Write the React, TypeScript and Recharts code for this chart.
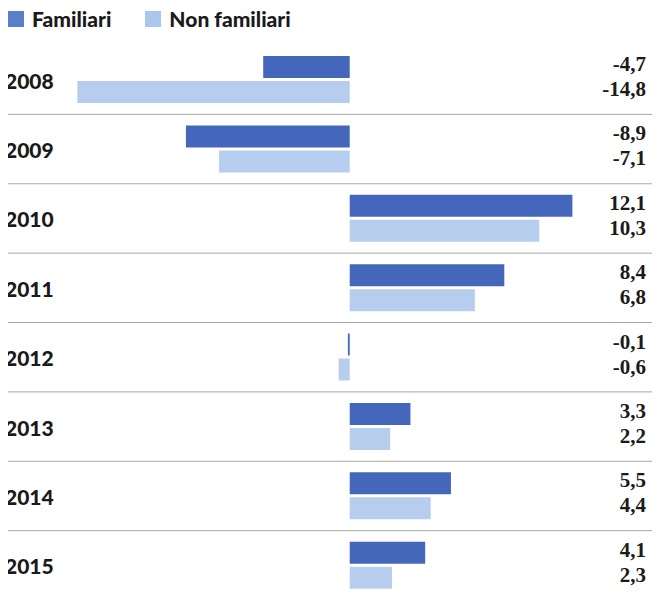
import { BarChart, Bar, XAxis, YAxis, CartesianGrid, Legend, LabelList } from 'recharts';

const years = ['2008', '2009', '2010', '2011', '2012', '2013', '2014', '2015'];
const familiari = [-4.7, -8.9, 12.1, 8.4, -0.1, 3.3, 5.5, 4.1];
const nonFamiliari = [-14.8, -7.1, 10.3, 6.8, -0.6, 2.2, 4.4, 2.3];

const data = years.map((year, i) => ({ year, familiari: familiari[i], nonFamiliari: nonFamiliari[i] }));

const DARK = '#4466bb';
const LIGHT = '#b7cdee';
const SANS = 'Lato, "Open Sans", sans-serif';
const SERIF = '"Liberation Serif", "DejaVu Serif", serif';

const fmt = (v: number) => v.toFixed(1).replace('.', ',');

function ValueLabel(props: any) {
    const { y, height, value } = props;
    return (
        <text x={646} y={y + height / 2} dy={4} textAnchor="end" fontFamily={SERIF} fontWeight={700} fontSize={21} fill="#1b1b1b">
            {fmt(Number(value))}
        </text>
    );
}

function YearTick(props: any) {
    const { y, payload } = props;
    return (
        <text x={5} y={y} dy={9} textAnchor="start" fontFamily={SANS} fontWeight={900} fontSize={21} fill="#1a1a1a">
            {payload.value}
        </text>
    );
}

function LegendContent() {
    const items = [
        { label: 'Familiari', color: '#5a7ecb' },
        { label: 'Non familiari', color: '#aac6ec' },
    ];
    return (
        <div style={{ display: 'flex', gap: 34, fontFamily: SANS, fontWeight: 900, fontSize: 21, color: '#1a1a1a' }}>
            {items.map((it) => (
                <div key={it.label} style={{ display: 'flex', alignItems: 'center', gap: 8 }}>
                    <span style={{ width: 16, height: 16, background: it.color, display: 'inline-block' }} />
                    <span>{it.label}</span>
                </div>
            ))}
        </div>
    );
}

export default function App() {
    return (
        <div style={{ margin: -8, width: 660, height: 600, background: '#fff', overflow: 'hidden' }}>
            <BarChart
                width={660}
                height={600}
                data={data}
                layout="vertical"
                margin={{ top: 20, right: 60, bottom: 0, left: 0 }}
                barCategoryGap={11}
                barGap={3}
            >
                <CartesianGrid
                    vertical={false}
                    x={0}
                    width={660}
                    stroke="#a8a8a8"
                    horizontalCoordinatesGenerator={({ offset }: any) =>
                        years.slice(1).map((_, i) => offset.top + ((i + 1) * offset.height) / years.length)
                    }
                />
                <XAxis type="number" domain={[-15.2, 13.6]} allowDataOverflow hide />
                <YAxis type="category" dataKey="year" width={70} axisLine={false} tickLine={false} tick={<YearTick />} />
                <Legend
                    verticalAlign="top"
                    align="left"
                    content={<LegendContent />}
                    wrapperStyle={{ position: 'absolute', top: 6, left: 8 }}
                />
                <Bar dataKey="familiari" name="Familiari" fill={DARK} isAnimationActive={false}>
                    <LabelList dataKey="familiari" content={<ValueLabel />} />
                </Bar>
                <Bar dataKey="nonFamiliari" name="Non familiari" fill={LIGHT} isAnimationActive={false}>
                    <LabelList dataKey="nonFamiliari" content={<ValueLabel />} />
                </Bar>
            </BarChart>
        </div>
    );
}
